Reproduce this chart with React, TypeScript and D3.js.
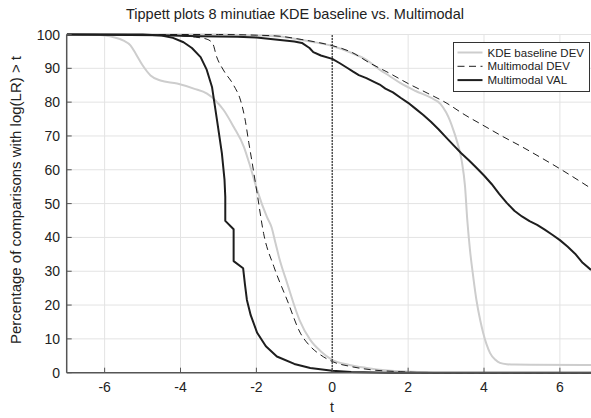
import React from "react";
import * as d3 from "d3";

const title = "Tippett plots 8 minutiae KDE baseline vs. Multimodal";
const xLabel = "t";
const yLabel = "Percentage of comparisons with log(LR) > t";
const xTicks = [-6, -4, -2, 0, 2, 4, 6];
const yTicks = [0, 10, 20, 30, 40, 50, 60, 70, 80, 90, 100];
const legendNames = ["KDE baseline DEV", "Multimodal DEV", "Multimodal VAL"];

// KDE baseline DEV
const kdeImpT = [-7, -6.3, -6.02, -5.76, -5.5, -5.32, -5.18, -5.0, -4.79, -4.53, -4.09, -3.65, -3.3, -3.08, -2.86, -2.6, -2.33, -2.16, -1.98, -1.72, -1.6, -1.5, -1.4, -1.19, -0.86, -0.58, -0.3, 0, 0.45, 0.91, 1.4, 1.79, 2.5, 3, 6.82];
const kdeImpV = [100, 100, 99.7, 99.2, 98.2, 96.8, 94.3, 90.9, 87.9, 86.4, 85.5, 84, 82.5, 80.5, 77.6, 72.7, 66.8, 60.9, 54, 46, 43, 38.5, 34, 26.5, 15.5, 9.7, 6.3, 3.8, 2.3, 1.4, 0.7, 0.4, 0.1, 0, 0];
const kdeGenT = [-7, -3, -2, -1.4, -0.8, -0.4, 0, 0.5, 0.9, 1.25, 1.5, 1.8, 2.2, 2.6, 2.85, 3.0, 3.1, 3.2, 3.28, 3.41, 3.5, 3.56, 3.63, 3.72, 3.8, 3.9, 3.98, 4.07, 4.16, 4.3, 4.42, 4.6, 4.8, 6.82];
const kdeGenV = [100, 100, 99.7, 99.4, 98.4, 97.6, 96.6, 94.6, 92.5, 89.6, 87.8, 85.6, 83.3, 81.3, 79.5, 77, 74.6, 71.5, 68.7, 62.8, 55, 45, 36.3, 28, 21.5, 15.5, 11.7, 8.3, 5.8, 3.8, 2.9, 2.5, 2.4, 2.3];

// Multimodal DEV
const mmdImpT = [-7, -4.5, -4, -3.6, -3.3, -3.15, -3.05, -2.87, -2.6, -2.42, -2.3, -2.2, -2.11, -1.98, -1.81, -1.54, -1.19, -0.84, -0.58, -0.3, 0, 0.5, 1.0, 1.79, 2.5, 6.82];
const mmdImpV = [100, 99.9, 99.6, 99.2, 98.6, 97.3, 93.5, 89.5, 85, 80.6, 75, 68, 62, 53, 41.2, 31.4, 21.5, 11.7, 7.8, 5.2, 3.3, 1.8, 0.9, 0.3, 0, 0];
const mmdGenT = [-7, -3, -2, -1.4, -0.8, -0.4, 0, 0.5, 1, 1.5, 2, 2.5, 3, 3.5, 4, 4.5, 5, 5.5, 6, 6.5, 6.82];
const mmdGenV = [100, 100, 99.8, 99.5, 98.5, 97.7, 96.7, 94.8, 91.5, 88.6, 85.5, 82.7, 79.8, 76.2, 73, 69.8, 66.8, 63.6, 60.3, 56.8, 54.5];

// Multimodal VAL
const mmvImpT = [-7, -5, -4.5, -4.2, -3.92, -3.7, -3.47, -3.31, -3.17, -3.04, -2.91, -2.84, -2.82, -2.82, -2.6, -2.6, -2.35, -2.3, -2.25, -2.15, -1.98, -1.75, -1.46, -1.0, -0.58, 0, 0.5, 1.5, 6.82];
const mmvImpV = [100, 100, 99.7, 99.0, 97.7, 96, 93.3, 89.6, 84.5, 74.8, 64.9, 57, 52, 44.9, 42.4, 33, 30.9, 26, 21.5, 17, 11.8, 7.8, 4.8, 2.6, 1.4, 0.6, 0.2, 0, 0];
const mmvGenT = [-7, -4.5, -3.5, -2.5, -2, -1.5, -1.0, -0.8, -0.6, -0.5, -0.3, 0, 0.2, 0.4, 0.55, 0.7, 0.9, 1.1, 1.25, 1.4, 1.6, 1.8, 2.0, 2.2, 2.4, 2.6, 2.8, 3.0, 3.2, 3.4, 3.6, 3.8, 4.0, 4.2, 4.4, 4.6, 4.8, 5.0, 5.2, 5.4, 5.6, 5.8, 6.0, 6.2, 6.4, 6.6, 6.82];
const mmvGenV = [100, 99.8, 99.5, 99.3, 99.1, 98.5, 97.9, 97.5, 96, 94.8, 93.8, 92.8, 91.5, 90.1, 89, 88, 87.1, 86.0, 85.2, 84.0, 82.9, 81.3, 79.8, 78.0, 76.2, 74.2, 72.0, 69.6, 67.2, 64.9, 62.8, 60.6, 58.3, 55.8, 52.9, 50.2, 47.9, 46.2, 44.8, 43.7, 42.3, 40.8, 39.2, 37.3, 35.2, 32.5, 30.4];

const W = 591;
const H = 418;
const left = 66.7;
const right = 591;
const top = 34.5;
const bottom = 372.7;
const font = "'Liberation Sans', Arial, Helvetica, sans-serif";

export default function App() {
  const x = d3.scaleLinear().domain([-7, 6.82]).range([left, right]);
  const y = d3.scaleLinear().domain([0, 100]).range([bottom, top]);
  const mk = (ts: number[], vs: number[], curve: d3.CurveFactory = d3.curveLinear) =>
    d3
      .line<number>()
      .x((_, i) => x(ts[i]))
      .y((v) => y(v))
      .curve(curve)(vs) || "";

  const axisColor = "#555";
  const gridColor = "#e3e3e3";
  const gray = "#cdcdcd";
  const black = "#1e1e1e";

  const legendX = 453.5;
  const legendY = 42.5;
  const rowH = 13.8;
  const dash = "7,4.5";

  return (
    <svg
      width={W}
      height={H}
      style={{ position: "absolute", left: 0, top: 0, background: "#fff" }}
      fontFamily={font}
    >
      <defs>
        <clipPath id="plotclip">
          <rect x={left} y={top - 3} width={right - left} height={bottom - top + 6} />
        </clipPath>
      </defs>
      {/* grid */}
      {xTicks.map((t) => (
        <line key={"gx" + t} x1={x(t)} x2={x(t)} y1={top} y2={bottom} stroke={gridColor} strokeWidth={1} />
      ))}
      {yTicks.map((t) => (
        <line key={"gy" + t} x1={left} x2={right} y1={y(t)} y2={y(t)} stroke={gridColor} strokeWidth={1} />
      ))}
      {/* curves */}
      <g clipPath="url(#plotclip)" fill="none">
        <path d={mk(kdeImpT, kdeImpV, d3.curveMonotoneX)} stroke={gray} strokeWidth={2} />
        <path d={mk(kdeGenT, kdeGenV, d3.curveMonotoneX)} stroke={gray} strokeWidth={2} />
        <path d={mk(mmdImpT, mmdImpV, d3.curveMonotoneX)} stroke={black} strokeWidth={1} strokeDasharray={dash} />
        <path d={mk(mmdGenT, mmdGenV, d3.curveMonotoneX)} stroke={black} strokeWidth={1} strokeDasharray={dash} />
        <path d={mk(mmvImpT, mmvImpV)} stroke={black} strokeWidth={2} strokeLinejoin="round" />
        <path d={mk(mmvGenT, mmvGenV)} stroke={black} strokeWidth={2} strokeLinejoin="round" />
        <line x1={x(0)} x2={x(0)} y1={y(0)} y2={y(100)} stroke="#222" strokeWidth={1.5} strokeDasharray="1.5,1.5" />
      </g>
      {/* axes */}
      <line x1={left} x2={left} y1={top} y2={bottom} stroke={axisColor} strokeWidth={1.5} />
      <line x1={left} x2={right} y1={bottom} y2={bottom} stroke={axisColor} strokeWidth={1.5} />
      {xTicks.map((t) => (
        <g key={"tx" + t}>
          <line x1={x(t)} x2={x(t)} y1={bottom} y2={bottom - 5} stroke={axisColor} strokeWidth={1} />
          <text x={x(t)} y={392} textAnchor="middle" fontSize={14} fill="#222">
            {t}
          </text>
        </g>
      ))}
      {yTicks.map((t) => (
        <g key={"ty" + t}>
          <line x1={left} x2={left + 5} y1={y(t)} y2={y(t)} stroke={axisColor} strokeWidth={1} />
          <text x={60} y={y(t) + 5} textAnchor="end" fontSize={14} fill="#222">
            {t}
          </text>
        </g>
      ))}
      {/* labels */}
      <text x={295} y={19} textAnchor="middle" fontSize={14.5} fill="#222">
        {title}
      </text>
      <text x={332} y={412} textAnchor="middle" fontSize={14} fill="#222">
        {xLabel}
      </text>
      <text
        transform={`translate(21, ${200}) rotate(-90)`}
        textAnchor="middle"
        fontSize={15}
        fill="#222"
      >
        {yLabel}
      </text>
      {/* legend */}
      <rect x={legendX} y={legendY} width={136} height={49} fill="#fff" stroke="#333" strokeWidth={1} />
      {legendNames.map((n, i) => {
        const cy = legendY + 10 + i * rowH;
        const stroke = i === 0 ? gray : black;
        const sw = i === 1 ? 1 : 2;
        return (
          <g key={n}>
            <line
              x1={legendX + 4}
              x2={legendX + 29}
              y1={cy}
              y2={cy}
              stroke={stroke}
              strokeWidth={sw}
              strokeDasharray={i === 1 ? dash : undefined}
            />
            <text x={legendX + 34} y={cy + 4} fontSize={11.5} fill="#222">
              {n}
            </text>
          </g>
        );
      })}
    </svg>
  );
}
